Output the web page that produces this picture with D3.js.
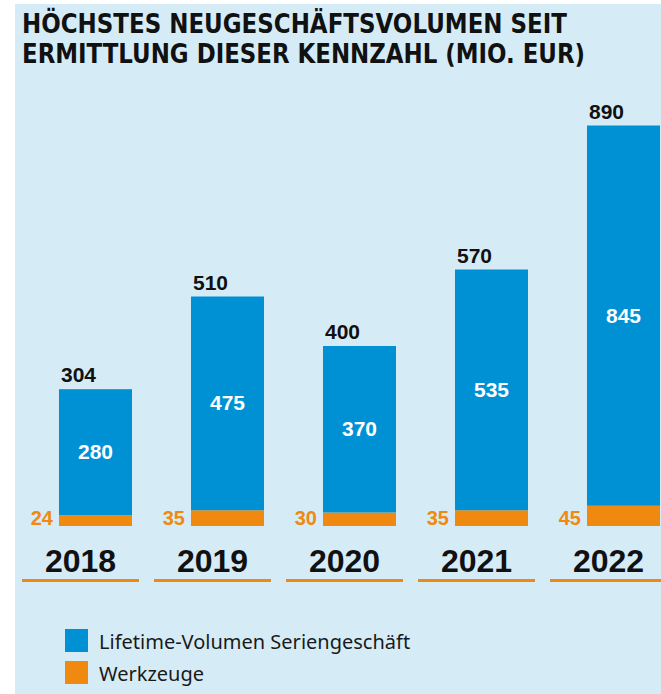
<!doctype html>
<html lang="de">
<head>
  <meta charset="utf-8">
  <title>Neugeschäftsvolumen</title>
</head>
<body style="overflow: hidden; margin: 0; background: #fff;">
  <script src="https://cdnjs.cloudflare.com/ajax/libs/d3/7.8.5/d3.min.js"></script>
  <script type="text/javascript">

    // data (Mio. EUR)
    const years = ["2018", "2019", "2020", "2021", "2022"];
    const werkzeuge = [24, 35, 30, 35, 45];
    const serien = [280, 475, 370, 535, 845];
    const totals = [304, 510, 400, 570, 890];
    const titleLines = ["HÖCHSTES NEUGESCHÄFTSVOLUMEN SEIT", "ERMITTLUNG DIESER KENNZAHL (MIO. EUR)"];
    const legendLabels = ["Lifetime-Volumen Seriengeschäft", "Werkzeuge"];

    const config = {
      width: 661,
      height: 694,
      blue: "#0091d5",
      orange: "#f0890f",
      bg: "#d5ecf7",
      base: 526
    };

    const svg = d3.select("body").append("svg")
      .attr("width", config.width)
      .attr("height", config.height);

    svg.append("rect")
      .attr("x", 15).attr("y", 4)
      .attr("width", config.width - 15)
      .attr("height", config.height - 4)
      .attr("fill", config.bg);

    // title
    const titleWidths = [545, 563];
    svg.selectAll("text.title")
      .data(titleLines)
      .join("text")
      .attr("class", "title")
      .attr("x", 22)
      .attr("y", (d, i) => 33 + i * 30)
      .attr("textLength", (d, i) => titleWidths[i])
      .attr("lengthAdjust", "spacingAndGlyphs")
      .style("font-family", "'DejaVu Sans', sans-serif")
      .style("font-weight", "bold")
      .style("font-size", "26px")
      .style("fill", "#111")
      .text(d => d);

    const xScale = d3.scaleBand()
      .domain(years)
      .range([59, 660])
      .paddingInner(59 / 132)
      .paddingOuter(0);

    const yScale = d3.scaleLinear()
      .domain([0, 1000])
      .range([config.base, config.base - 450]);

    const rows = years.map((y, i) => ({
      year: y, w: werkzeuge[i], s: serien[i], t: totals[i]
    }));

    const g = svg.selectAll("g.bar")
      .data(rows)
      .join("g")
      .attr("class", "bar");

    // orange part
    g.append("rect")
      .attr("x", d => xScale(d.year))
      .attr("y", d => yScale(d.w))
      .attr("width", xScale.bandwidth())
      .attr("height", d => yScale(0) - yScale(d.w))
      .attr("fill", config.orange);

    // blue part
    g.append("rect")
      .attr("x", d => xScale(d.year))
      .attr("y", d => yScale(d.w + d.s))
      .attr("width", xScale.bandwidth())
      .attr("height", d => yScale(d.w) - yScale(d.w + d.s))
      .attr("fill", config.blue);

    const numFont = "'Liberation Sans', Arial, sans-serif";

    // totals above
    g.append("text")
      .attr("x", d => xScale(d.year) + 2)
      .attr("y", d => yScale(d.t) - 7)
      .style("font-family", numFont)
      .style("font-weight", "bold")
      .style("font-size", "21px")
      .style("fill", "#111")
      .text(d => d.t);

    // values inside blue
    g.append("text")
      .attr("x", d => xScale(d.year) + xScale.bandwidth() / 2)
      .attr("y", d => (yScale(d.w) + yScale(d.w + d.s)) / 2 + 7)
      .attr("text-anchor", "middle")
      .style("font-family", numFont)
      .style("font-weight", "bold")
      .style("font-size", "21px")
      .style("fill", "#fff")
      .text(d => d.s);

    // werkzeuge values left of bar
    g.append("text")
      .attr("x", d => xScale(d.year) - 6)
      .attr("y", config.base - 1)
      .attr("text-anchor", "end")
      .style("font-family", numFont)
      .style("font-weight", "bold")
      .style("font-size", "20px")
      .style("fill", config.orange)
      .text(d => d.w);

    // year labels
    g.append("text")
      .attr("x", d => xScale(d.year) + xScale.bandwidth() / 2 - 15)
      .attr("y", 572)
      .attr("text-anchor", "middle")
      .style("font-family", numFont)
      .style("font-weight", "bold")
      .style("font-size", "32px")
      .style("fill", "#111")
      .text(d => d.year);

    g.append("rect")
      .attr("x", d => xScale(d.year) - 37)
      .attr("y", 579)
      .attr("width", 117)
      .attr("height", 3)
      .attr("fill", config.orange);

    // legend
    const legendColors = [config.blue, config.orange];
    const leg = svg.selectAll("g.legend")
      .data(legendLabels)
      .join("g")
      .attr("class", "legend")
      .attr("transform", (d, i) => "translate(65," + (629 + i * 32) + ")");

    leg.append("rect")
      .attr("width", 23)
      .attr("height", 23)
      .attr("fill", (d, i) => legendColors[i]);

    leg.append("text")
      .attr("x", 34)
      .attr("y", 20)
      .style("font-family", "'Noto Sans', sans-serif")
      .style("font-size", "20px")
      .style("fill", "#1a1a1a")
      .text(d => d);
  </script>
</body>
</html>
